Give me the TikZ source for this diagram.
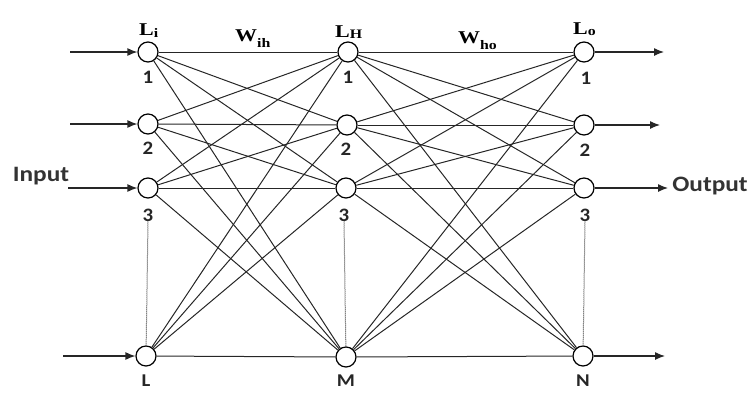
\documentclass[tikz,border=0pt]{standalone}
\usepackage{fontspec}
\usepackage{graphicx}
\setmainfont{Liberation Serif}
\newfontfamily\carl{Carlito}
\usetikzlibrary{arrows.meta}
\newcommand\sxs[2]{\scalebox{#1}[1]{#2}}
\newcommand\lab[3]{\sxs{1.22}{\fontsize{18}{18}\selectfont\bfseries #1\raisebox{-#3pt}{\fontsize{13}{13}\selectfont #2}}}
\begin{document}
\begin{tikzpicture}[x=1pt,y=-1pt,
  neuron/.style={circle,draw,line width=1.2pt,minimum size=20pt,inner sep=0pt},
  conn/.style={line width=1pt,black!85},
  io/.style={line width=1.2pt,black!85,-{Latex[length=10pt,width=8pt]}},
  dots/.style={line width=1pt,dash pattern=on 1pt off 1pt,black!75},
  num/.style={font=\carl\bfseries\fontsize{19}{19}\selectfont,inner sep=0pt,text=black!85},
  word/.style={font=\carl\bfseries\fontsize{22}{22}\selectfont,inner sep=0pt,text=black!80},
  ttl/.style={inner sep=0pt,anchor=base west}
]
\useasboundingbox (0,0) rectangle (752,392);
% neurons
\node[neuron] (i1) at (148,52) {};
\node[neuron] (i2) at (148,124) {};
\node[neuron] (i3) at (148,188) {};
\node[neuron] (iL) at (146,356) {};
\node[neuron] (h1) at (348,52) {};
\node[neuron] (h2) at (347,125) {};
\node[neuron] (h3) at (346,188) {};
\node[neuron] (hM) at (346,357) {};
\node[neuron] (o1) at (584,52) {};
\node[neuron] (o2) at (584,125) {};
\node[neuron] (o3) at (584,188) {};
\node[neuron] (oN) at (583,356) {};
% connections
\foreach \a in {i1,i2,i3,iL}
  \foreach \b in {h1,h2,h3,hM}
    \draw[conn] (\a) -- (\b);
\foreach \a in {h1,h2,h3,hM}
  \foreach \b in {o1,o2,o3,oN}
    \draw[conn] (\a) -- (\b);
% number labels
\node[num] (li1) at (148,77) {\sxs{1.1}{1}};
\node[num] (li2) at (148,148) {\sxs{1.1}{2}};
\node[num] (li3) at (148,215) {\sxs{1.1}{3}};
\node[num] (lh1) at (348,77) {\sxs{1.1}{1}};
\node[num] (lh2) at (346,149) {\sxs{1.1}{2}};
\node[num] (lh3) at (344,215) {\sxs{1.1}{3}};
\node[num] (lo1) at (586,78) {\sxs{1.1}{1}};
\node[num] (lo2) at (585,150) {\sxs{1.1}{2}};
\node[num] (lo3) at (585,215) {\sxs{1.1}{3}};
\node[num,font=\carl\bfseries\fontsize{18}{18}\selectfont] (lL) at (146,381) {\sxs{1.15}{L}};
\node[num,font=\carl\bfseries\fontsize{18}{18}\selectfont] (lM) at (346,381) {\sxs{1.15}{M}};
\node[num,font=\carl\bfseries\fontsize{18}{18}\selectfont] (lN) at (583,381) {\sxs{1.15}{N}};
% dotted lines
\draw[dots] (li3.south) -- (iL);
\draw[dots] (lh3.south) -- (hM);
\draw[dots] (lo3.south) -- (oN);
% input / output arrows
\coordinate (a1) at (70,52);
\coordinate (a2) at (70,124);
\coordinate (a3) at (68,188);
\coordinate (aL) at (63,356);
\draw[io] (a1) -- (i1);
\draw[io] (a2) -- (i2);
\draw[io] (a3) -- (i3);
\draw[io] (aL) -- (iL);
\coordinate (b1) at (664,52);
\coordinate (b2) at (660,125);
\coordinate (b3) at (668,188);
\coordinate (bN) at (665,356);
\draw[io] (o1) -- (b1);
\draw[io] (o2) -- (b2);
\draw[io] (o3) -- (b3);
\draw[io] (oN) -- (bN);
% words
\node[word] (inp) at (41,176) {\sxs{1.15}{Input}};
\node[word] (outp) at (710,186) {\sxs{1.15}{Output}};
% layer titles
\node[ttl] (tLi) at (139,35) {\lab{L}{i}{2}};
\node[ttl] (tWih) at (235,41) {\lab{W}{ih}{6}};
\node[ttl] (tLH) at (335,37) {\lab{L}{H}{1}};
\node[ttl] (tWho) at (458,43) {\lab{W}{ho}{6}};
\node[ttl] (tLo) at (573,34) {\lab{L}{o}{1}};
\end{tikzpicture}
\end{document}
